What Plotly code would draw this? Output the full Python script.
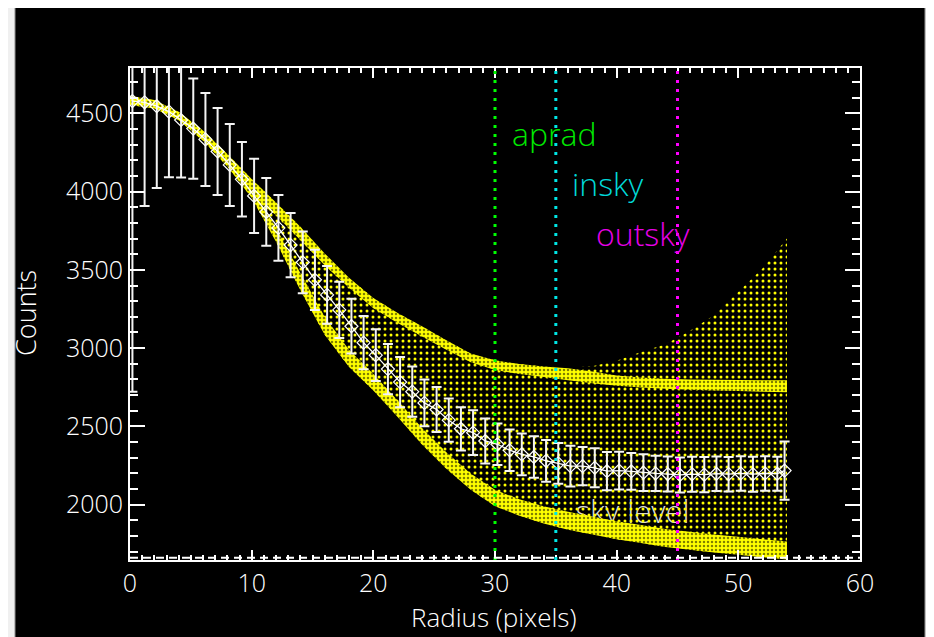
import plotly.graph_objects as go

# ---------------- data ----------------
radius = [0.2, 1.2, 2.2, 3.2, 4.2, 5.2, 6.2, 7.2, 8.2, 9.2,
          10.2, 11.2, 12.2, 13.2, 14.2, 15.2, 16.2, 17.2, 18.2, 19.2,
          20.2, 21.2, 22.2, 23.2, 24.2, 25.2, 26.2, 27.2, 28.2, 29.2,
          30.2, 31.2, 32.2, 33.2, 34.2, 35.2, 36.2, 37.2, 38.2, 39.2,
          40.2, 41.2, 42.2, 43.2, 44.2, 45.2, 46.2, 47.2, 48.2, 49.2,
          50.2, 51.2, 52.2, 53.2, 53.8]
counts = [4578, 4570, 4545, 4510, 4457, 4402, 4333, 4256, 4170, 4078,
          3972, 3870, 3768, 3658, 3548, 3436, 3340, 3244, 3140, 3035,
          2955, 2866, 2783, 2722, 2650, 2608, 2540, 2485, 2460, 2407,
          2386, 2348, 2322, 2305, 2280, 2264, 2247, 2246, 2236, 2214,
          2218, 2213, 2205, 2200, 2196, 2190, 2195, 2192, 2198, 2195,
          2200, 2195, 2200, 2198, 2218]
count_err = [1857, 662, 522, 419, 367, 320, 297, 278, 262, 238,
             237, 216, 210, 205, 197, 192, 185, 180, 175, 170,
             165, 160, 160, 160, 149, 144, 138, 138, 143, 143,
             133, 133, 133, 133, 133, 130, 130, 122, 124, 122,
             120, 117, 117, 112, 112, 112, 112, 112, 110, 110,
             110, 112, 110, 108, 186]

# pixel-value cloud (envelopes read from the yellow points)
cloud_r = [0, 2, 4, 6, 8, 10, 12, 14, 16, 18, 20, 22, 24, 26, 28,
           30, 32, 34, 36, 38, 40, 42, 44, 46, 48, 50, 52, 54]
cloud_top = [4612, 4585, 4510, 4390, 4240, 4080, 3930, 3775, 3605, 3450,
             3320, 3225, 3140, 3050, 2965, 2922, 2898, 2882, 2876, 2885,
             2920, 2975, 3025, 3110, 3210, 3360, 3510, 3700]
cloud_bottom = [4552, 4530, 4455, 4325, 4160, 3960, 3680, 3370, 3085, 2880,
                2730, 2560, 2385, 2230, 2095, 1990, 1930, 1880, 1840, 1810,
                1780, 1755, 1730, 1712, 1695, 1680, 1665, 1650]
# dense upper band
upper_band_top = [4612, 4585, 4510, 4390, 4240, 4080, 3930, 3775, 3605, 3450,
                  3320, 3225, 3140, 3050, 2965, 2922, 2898, 2882, 2872, 2850,
                  2825, 2812, 2805, 2800, 2798, 2796, 2795, 2795]
upper_band_bottom = [4552, 4530, 4455, 4325, 4160, 3960, 3850, 3690, 3530, 3385,
                     3255, 3160, 3075, 2990, 2910, 2860, 2835, 2815, 2795, 2775,
                     2760, 2748, 2740, 2735, 2730, 2726, 2722, 2718]
# dense lower band
lower_band_r = [10, 12, 14, 16, 18, 20, 22, 24, 26, 28, 30, 32, 34, 36, 38,
                40, 42, 44, 46, 48, 50, 52, 54]
lower_band_top = [4010, 3770, 3480, 3200, 2990, 2835, 2665, 2490, 2335, 2200,
                  2095, 2035, 1990, 1955, 1925, 1895, 1870, 1845, 1828, 1810,
                  1795, 1780, 1765]
lower_band_bottom = [3960, 3680, 3370, 3085, 2880, 2730, 2560, 2385, 2230, 2095,
                     1990, 1930, 1880, 1840, 1810, 1780, 1755, 1730, 1712, 1695,
                     1680, 1665, 1650]

aprad, insky, outsky = 30, 35, 45
sky_level = 1662
x_ticks = [0, 10, 20, 30, 40, 50, 60]
y_ticks = [2000, 2500, 3000, 3500, 4000, 4500]

YEL = "#ffff00"
FONT = "Open Sans"
W = 300


def band(xs, top, bottom):
    return list(xs) + list(xs)[::-1], list(top) + list(bottom)[::-1]


fig = go.Figure()

# "sky level" label, drawn under the points
fig.add_trace(go.Scatter(x=[41.3], y=[1930], mode="text", text=["sky level"],
                         textfont=dict(family=FONT, size=31, color="#d8d8d8", weight=W),
                         hoverinfo="skip", showlegend=False))

# sparse cloud
cx, cy = band(cloud_r, cloud_top, cloud_bottom)
fig.add_trace(go.Scatter(x=cx, y=cy, mode="none", fill="toself",
                         fillcolor=YEL,
                         fillpattern=dict(shape=".", fgcolor=YEL, bgcolor="rgba(0,0,0,0)",
                                          fgopacity=1, size=6, solidity=0.2),
                         hoverinfo="skip", showlegend=False))
# dense bands
ux, uy = band(cloud_r, upper_band_top, upper_band_bottom)
fig.add_trace(go.Scatter(x=ux, y=uy, mode="none", fill="toself",
                         fillcolor=YEL,
                         fillpattern=dict(shape=".", fgcolor="black", bgcolor=YEL,
                                          size=4, solidity=0.3),
                         hoverinfo="skip", showlegend=False))
lx, ly = band(lower_band_r, lower_band_top, lower_band_bottom)
fig.add_trace(go.Scatter(x=lx, y=ly, mode="none", fill="toself",
                         fillcolor=YEL,
                         fillpattern=dict(shape=".", fgcolor="black", bgcolor=YEL,
                                          size=4, solidity=0.3),
                         hoverinfo="skip", showlegend=False))

# binned profile with error bars
fig.add_trace(go.Scatter(x=radius, y=counts, mode="lines+markers",
                         line=dict(color="white", width=1.3),
                         marker=dict(symbol="diamond-open", size=10, color="white",
                                     line=dict(width=1.2, color="white")),
                         error_y=dict(type="data", array=count_err, visible=True,
                                      color="#f4f4f4", thickness=2, width=5),
                         hoverinfo="skip", showlegend=False))

shapes = [
    dict(type="rect", xref="paper", yref="paper", x0=-0.1575, x1=1.089, y0=-0.2, y1=1.128,
         fillcolor="black", line=dict(color="#8a8a8a", width=1), layer="below"),
]
for xv, col in [(aprad, "#00ff00"), (insky, "#00e6e6"), (outsky, "#ff00ff")]:
    shapes.append(dict(type="line", xref="x", yref="paper", x0=xv, x1=xv, y0=0, y1=1,
                       line=dict(color=col, width=3, dash="3px,6px"), layer="above"))
shapes.append(dict(type="line", xref="paper", yref="y", x0=0, x1=1, y0=sky_level, y1=sky_level,
                   line=dict(color="white", width=2, dash="8px,5px"), layer="above"))

annotations = [
    dict(text="aprad", x=31.2, y=4368, xref="x", yref="y", xanchor="left", yanchor="middle",
         showarrow=False, font=dict(family=FONT, size=32, color="#00e800", weight=W)),
    dict(text="insky", x=36.2, y=4049, xref="x", yref="y", xanchor="left", yanchor="middle",
         showarrow=False, font=dict(family=FONT, size=32, color="#00d8d8", weight=W)),
    dict(text="outsky", x=38.15, y=3730, xref="x", yref="y", xanchor="left", yanchor="middle",
         showarrow=False, font=dict(family=FONT, size=32, color="#e800e8", weight=W)),
    dict(text="Radius (pixels)", x=0.4986, y=-0.116, xref="paper", yref="paper",
         xanchor="center", yanchor="middle", showarrow=False,
         font=dict(family=FONT, size=26, color="white", weight=W)),
    dict(text="Counts", x=-0.144, y=0.502, xref="paper", yref="paper", textangle=-90,
         xanchor="center", yanchor="middle", showarrow=False,
         font=dict(family=FONT, size=27, color="white", weight=W)),
]

axis_common = dict(showgrid=False, zeroline=False, showline=True, linecolor="white",
                   linewidth=2, mirror="ticks", ticks="inside", tickcolor="white",
                   tickwidth=1.5, tickfont=dict(family=FONT, size=25, color="white", weight=W))

# the page body adds an 8px offset, so the margins are shifted to compensate
fig.update_layout(
    width=934, height=637,
    margin=dict(l=122, r=82, t=60, b=85),
    paper_bgcolor="#f0f0f0", plot_bgcolor="black",
    shapes=shapes, annotations=annotations,
    xaxis=dict(range=[0, 60], tickvals=x_ticks, ticklen=10, ticklabelstandoff=0,
               minor=dict(dtick=1, ticks="inside", ticklen=5, tickcolor="white", tickwidth=1.5),
               **axis_common),
    yaxis=dict(range=[1647, 4789], tickvals=y_ticks, tickformat="d", ticklen=15,
               minor=dict(dtick=100, ticks="inside", ticklen=8, tickcolor="white", tickwidth=1.5),
               **axis_common),
)

fig.write_html("out.html")
